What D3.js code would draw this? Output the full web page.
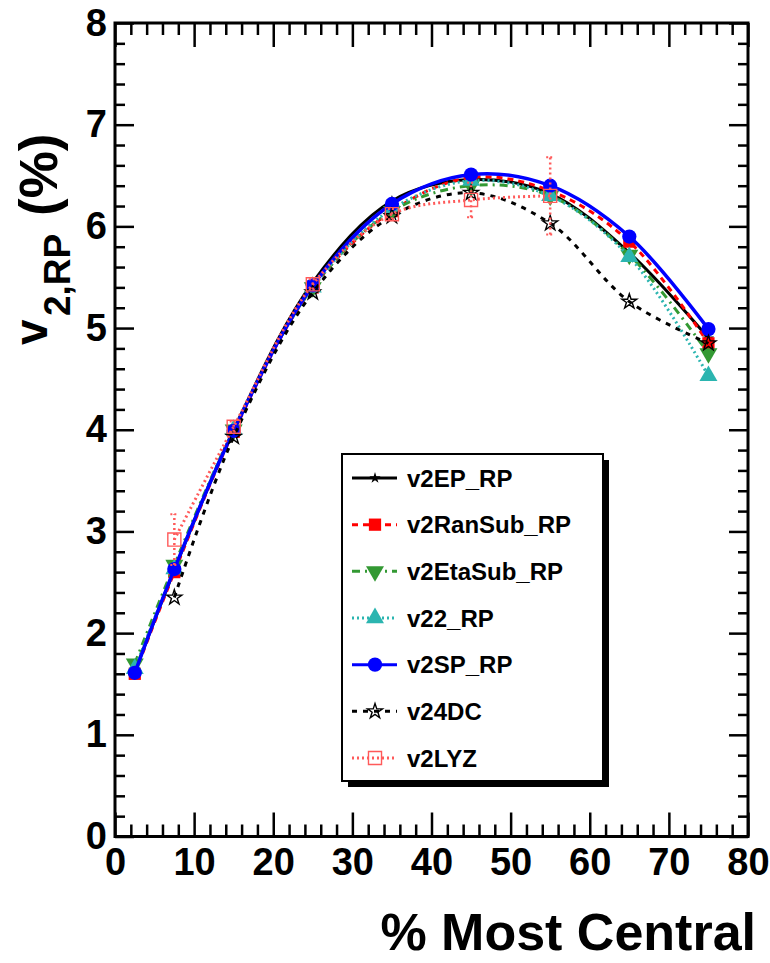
<!DOCTYPE html>
<html>
<head>
<meta charset="utf-8">
<script src="https://cdn.jsdelivr.net/npm/d3@7"></script>
<style>
  body { margin: 0; background: #fff; }
  text { font-family: "Liberation Sans", Arial, Helvetica, sans-serif; font-weight: bold; }
</style>
</head>
<body>
<div id="chart"></div>
<script>
// centrality bins (% most central)
const centrality = [2.5, 7.5, 15, 25, 35, 45, 55, 65, 75];
const v2EP_RP = [1.62, 2.62, 4.0, 5.45, 6.25, 6.46, 6.32, 5.74, 4.9];
const v2RanSub_RP = [1.6, 2.6, 3.98, 5.4, 6.15, 6.48, 6.35, 5.85, 4.85];
const v2EtaSub_RP = [1.7, 2.67, 4.0, 5.4, 6.15, 6.4, 6.3, 5.72, 4.75];
const v22_RP = [1.65, 2.63, 4.0, 5.4, 6.17, 6.45, 6.3, 5.7, 4.53];
const v2SP_RP = [1.61, 2.63, 3.99, 5.42, 6.22, 6.51, 6.4, 5.9, 4.99];
const centrality24 = [7.5, 15, 25, 35, 45, 55, 65, 75];
const v24DC = [2.35, 3.93, 5.35, 6.1, 6.33, 6.03, 5.26, 4.85];
const centralityLYZ = [7.5, 15, 25, 35, 45, 55];
const v2LYZ = [2.92, 4.03, 5.43, 6.12, 6.26, 6.3];
const v2LYZErr = [0.25, 0.05, 0.05, 0.05, 0.17, 0.38];

const xTicks = [0, 10, 20, 30, 40, 50, 60, 70, 80];
const yTicks = [0, 1, 2, 3, 4, 5, 6, 7, 8];

const series = [
  { name: "v2EP_RP", xs: centrality, ys: v2EP_RP, color: "#000", dash: null, sym: "starSmall" },
  { name: "v2RanSub_RP", xs: centrality, ys: v2RanSub_RP, color: "#ff0000", dash: "6,5", sym: "square" },
  { name: "v2EtaSub_RP", xs: centrality, ys: v2EtaSub_RP, color: "#339933", dash: "8,5,2,5", sym: "triDown" },
  { name: "v22_RP", xs: centrality, ys: v22_RP, color: "#2bb5b0", dash: "2,3", sym: "triUp" },
  { name: "v2SP_RP", xs: centrality, ys: v2SP_RP, color: "#0000ff", dash: null, sym: "circle" },
  { name: "v24DC", xs: centrality24, ys: v24DC, color: "#000", dash: "5,6", sym: "starOpen" },
  { name: "v2LYZ", xs: centralityLYZ, ys: v2LYZ, err: v2LYZErr, color: "#ff5a5a", dash: "2,3", sym: "squareOpen" }
];

function init() {
  const W = 770, H = 963;
  const frame = { left: 115, right: 748, top: 23, bottom: 836.5 };

  const svg = d3.select("#chart").append("svg")
    .attr("width", W).attr("height", H);

  const x = d3.scaleLinear().domain([0, 80]).range([frame.left, frame.right]);
  const y = d3.scaleLinear().domain([0, 8]).range([frame.bottom, frame.top]);

  const xMinor = d3.range(0, 81, 2).filter((d) => d % 10 !== 0);
  const yMinor = d3.range(0, 8.01, 0.2).map((d) => +d.toFixed(1)).filter((d) => Math.abs(d - Math.round(d)) > 1e-6);

  function styleAxis(g) {
    g.select(".domain").remove();
    g.selectAll("line").attr("stroke", "#000").attr("stroke-width", 2.5);
  }

  // bottom axis
  svg.append("g").attr("transform", `translate(0,${frame.bottom})`)
    .call(d3.axisBottom(x).tickValues(xTicks).tickSize(-24).tickPadding(12).tickFormat(d3.format("d")))
    .call(styleAxis)
    .call((g) => g.selectAll("text").attr("font-size", 38).attr("fill", "#000")
      .attr("font-family", "Liberation Sans, Arial, sans-serif"));
  svg.append("g").attr("transform", `translate(0,${frame.bottom})`)
    .call(d3.axisBottom(x).tickValues(xMinor).tickSize(-12).tickFormat(""))
    .call(styleAxis);
  // top axis
  svg.append("g").attr("transform", `translate(0,${frame.top})`)
    .call(d3.axisTop(x).tickValues(xTicks).tickSize(-24).tickFormat(""))
    .call(styleAxis);
  svg.append("g").attr("transform", `translate(0,${frame.top})`)
    .call(d3.axisTop(x).tickValues(xMinor).tickSize(-12).tickFormat(""))
    .call(styleAxis);
  // left axis
  svg.append("g").attr("transform", `translate(${frame.left},0)`)
    .call(d3.axisLeft(y).tickValues(yTicks).tickSize(-19).tickPadding(8).tickFormat(d3.format("d")))
    .call(styleAxis)
    .call((g) => g.selectAll("text").attr("font-size", 38).attr("fill", "#000")
      .attr("font-family", "Liberation Sans, Arial, sans-serif"));
  svg.append("g").attr("transform", `translate(${frame.left},0)`)
    .call(d3.axisLeft(y).tickValues(yMinor).tickSize(-10).tickFormat(""))
    .call(styleAxis);
  // right axis
  svg.append("g").attr("transform", `translate(${frame.right},0)`)
    .call(d3.axisRight(y).tickValues(yTicks).tickSize(-19).tickFormat(""))
    .call(styleAxis);
  svg.append("g").attr("transform", `translate(${frame.right},0)`)
    .call(d3.axisRight(y).tickValues(yMinor).tickSize(-10).tickFormat(""))
    .call(styleAxis);

  // frame
  svg.append("rect")
    .attr("x", frame.left).attr("y", frame.top)
    .attr("width", frame.right - frame.left).attr("height", frame.bottom - frame.top)
    .attr("fill", "none").attr("stroke", "#000").attr("stroke-width", 3);

  const markerPath = {
    starSmall: d3.symbol().type(d3.symbolStar).size(40)(),
    starOpen: d3.symbol().type(d3.symbolStar).size(70)(),
    square: d3.symbol().type(d3.symbolSquare).size(150)(),
    squareOpen: d3.symbol().type(d3.symbolSquare).size(170)(),
    triUp: d3.symbol().type(d3.symbolTriangle).size(140)(),
    triDown: d3.symbol().type(d3.symbolTriangle).size(140)(),
    circle: d3.symbol().type(d3.symbolCircle).size(160)()
  };

  function drawMarker(g, s, px, py) {
    const open = s.sym === "starOpen" || s.sym === "squareOpen";
    g.append("path")
      .attr("d", markerPath[s.sym])
      .attr("transform", `translate(${px},${py})` + (s.sym === "triDown" ? " rotate(180)" : ""))
      .attr("fill", open ? "none" : s.color)
      .attr("stroke", s.color)
      .attr("stroke-width", open ? 1.4 : 0);
  }

  const line = d3.line()
    .x((d) => x(d[0]))
    .y((d) => y(d[1]))
    .curve(d3.curveCatmullRom.alpha(0.5));

  const plot = svg.append("g");
  series.forEach((s) => {
    const pts = s.xs.map((v, i) => [v, s.ys[i]]);
    const g = plot.append("g");
    if (s.err) {
      pts.forEach((p, i) => {
        const lo = y(p[1] - s.err[i]), hi = y(p[1] + s.err[i]);
        g.append("line")
          .attr("x1", x(p[0])).attr("x2", x(p[0]))
          .attr("y1", lo).attr("y2", hi)
          .attr("stroke", s.color).attr("stroke-width", 2.5).attr("stroke-dasharray", "2,3");
        [lo, hi].forEach((yy) => g.append("line")
          .attr("x1", x(p[0]) - 4).attr("x2", x(p[0]) + 4)
          .attr("y1", yy).attr("y2", yy)
          .attr("stroke", s.color).attr("stroke-width", 2).attr("stroke-dasharray", "2,2"));
      });
    }
    g.append("path")
      .datum(pts)
      .attr("d", line)
      .attr("fill", "none")
      .attr("stroke", s.color)
      .attr("stroke-width", s.name === "v2SP_RP" ? 3.5 : 3)
      .attr("stroke-dasharray", s.dash);
    pts.forEach((p) => drawMarker(g, s, x(p[0]), y(p[1])));
  });

  // legend
  const leg = { x: 342, y: 454, w: 261, h: 327 };
  svg.append("rect")
    .attr("x", leg.x + 6).attr("y", leg.y + 6).attr("width", leg.w).attr("height", leg.h)
    .attr("fill", "#000");
  svg.append("rect")
    .attr("x", leg.x).attr("y", leg.y).attr("width", leg.w).attr("height", leg.h)
    .attr("fill", "#fff").attr("stroke", "#000").attr("stroke-width", 2);

  const rowY = d3.scaleLinear().domain([0, series.length - 1]).range([478, 758]);
  series.forEach((s, i) => {
    const g = svg.append("g");
    const yy = rowY(i);
    g.append("line")
      .attr("x1", 352).attr("x2", 397).attr("y1", yy).attr("y2", yy)
      .attr("stroke", s.color).attr("stroke-width", 3)
      .attr("stroke-dasharray", s.dash);
    drawMarker(g, s, 375, yy);
    g.append("text")
      .attr("x", 407).attr("y", yy).attr("dy", "0.36em")
      .attr("font-size", 24).attr("fill", "#000")
      .text(s.name);
  });

  // axis titles
  svg.append("text")
    .attr("x", 756).attr("y", 950)
    .attr("text-anchor", "end")
    .attr("font-size", 52)
    .text("% Most Central");

  const yt = svg.append("g").attr("transform", "rotate(-90)");
  yt.append("text").attr("x", -345).attr("y", 47).attr("font-size", 46).text("v");
  yt.append("text").attr("x", -316).attr("y", 70).attr("font-size", 37).text("2,RP");
  yt.append("text").attr("x", -216).attr("y", 57).attr("font-size", 53).text("(%)");
}

window.addEventListener("load", init);
</script>
</body>
</html>
